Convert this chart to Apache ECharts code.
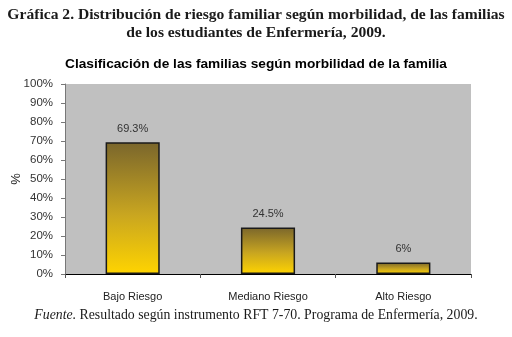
<!DOCTYPE html>
<html>
<head>
<meta charset="utf-8">
<script src="https://cdn.jsdelivr.net/npm/echarts@6/dist/echarts.min.js"></script>
<style>
  html, body { margin: 0; padding: 0; background: #fff; }
  #chart { width: 512px; height: 337px; }
</style>
</head>
<body>
<div id="chart"></div>
<script>
// data
var categories = ['Bajo Riesgo', 'Mediano Riesgo', 'Alto Riesgo']
var values = [69.3, 24.5, 6]
var yTicks = [0, 10, 20, 30, 40, 50, 60, 70, 80, 90, 100]

var mychart = echarts.init(document.getElementById('chart'))

var barColor = new echarts.graphic.LinearGradient(0, 0, 0, 1, [
  { offset: 0, color: '#7a662c' },
  { offset: 0.55, color: '#c9a620' },
  { offset: 1, color: '#ffd400' }
])

var option = {
  animation: false,
  backgroundColor: '#ffffff',
  title: [
    {
      text: 'Gráfica 2. Distribución de riesgo familiar según morbilidad, de las familias',
      left: 'center',
      top: 2,
      textStyle: { fontFamily: 'Liberation Serif', fontSize: 15.6, fontWeight: 'bold', color: '#1a1a1a' }
    },
    {
      text: 'de los estudiantes de Enfermería, 2009.',
      left: 'center',
      top: 20,
      textStyle: { fontFamily: 'Liberation Serif', fontSize: 15.6, fontWeight: 'bold', color: '#1a1a1a' }
    },
    {
      text: 'Clasificación de las familias según morbilidad de la familia',
      left: 'center',
      top: 52,
      textStyle: { fontFamily: 'Liberation Sans', fontSize: 13.7, fontWeight: 'bold', color: '#000' }
    },
    {
      text: '{i|Fuente.} Resultado según instrumento RFT 7-70. Programa de Enfermería, 2009.',
      left: 'center',
      top: 303,
      textStyle: {
        fontFamily: 'Liberation Serif', fontSize: 13.8, fontWeight: 'normal', color: '#1a1a1a',
        rich: {
          i: { fontFamily: 'Liberation Serif', fontSize: 13.8, fontStyle: 'italic', color: '#1a1a1a' }
        }
      }
    }
  ],
  grid: {
    left: 65,
    right: 41,
    top: 84,
    bottom: 63,
    outerBoundsMode: 'none',
    show: true,
    backgroundColor: '#c0c0c0',
    borderWidth: 0
  },
  xAxis: {
    type: 'category',
    data: categories,
    axisLine: { lineStyle: { color: '#000', width: 1 } },
    axisTick: { show: true, alignWithLabel: false, length: 4, lineStyle: { color: '#555' } },
    axisLabel: { color: '#222', fontFamily: 'Liberation Sans', fontSize: 11, margin: 17 }
  },
  yAxis: {
    type: 'value',
    min: 0,
    max: 100,
    interval: 10,
    name: '%',
    nameLocation: 'middle',
    nameGap: 42,
    nameRotate: 90,
    nameMoveOverlap: false,
    nameTextStyle: { color: '#222', fontFamily: 'Liberation Sans', fontSize: 13 },
    axisLine: { show: true, lineStyle: { color: '#777' } },
    axisTick: { show: true, length: 4, lineStyle: { color: '#777' } },
    splitLine: { show: false },
    axisLabel: {
      color: '#333',
      fontFamily: 'Liberation Sans',
      fontSize: 11.5,
      margin: 12,
      formatter: function (v) { return yTicks.indexOf(v) >= 0 ? v + '%' : '' }
    }
  },
  series: [
    {
      type: 'bar',
      data: values,
      barWidth: '40%',
      itemStyle: { color: barColor, borderColor: '#1a1a1a', borderWidth: 1.5 },
      label: {
        show: true,
        position: 'top',
        distance: 8,
        color: '#333',
        fontFamily: 'Liberation Sans',
        fontSize: 11,
        formatter: function (p) { return p.value + '%' }
      }
    }
  ]
}

mychart.setOption(option)
</script>
</body>
</html>
